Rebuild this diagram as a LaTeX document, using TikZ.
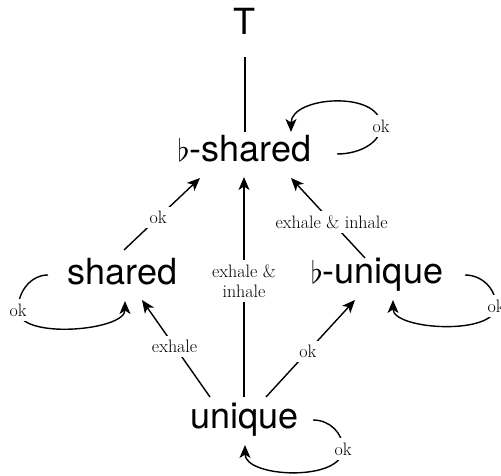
\documentclass[tikz,border=0pt]{standalone}
\usepackage{fontspec}
\usepackage{graphicx}
\setsansfont{TeX Gyre Heros}
\usetikzlibrary{arrows.meta}
\newcommand\myflat{\scalebox{3.1}{\normalsize$\flat$}}
\tikzset{
  st/.style={font=\fontsize{36}{40}\selectfont\sffamily, anchor=base, inner sep=0pt},
  lbl/.style={font=\fontsize{18}{19.5}\selectfont, fill=white, inner sep=4.5pt, align=center},
  ln/.style={line width=1.4pt},
  arr/.style={ln, -{Stealth[length=13pt,width=11pt,inset=3.5pt]}},
}
\begin{document}
\begin{tikzpicture}[x=1pt,y=1pt]
\useasboundingbox (0,0) rectangle (501,476);
\node[st] (T)  at (244,441)   {T};
\node[st] (bs) at (244.5,314) {\myflat-shared};
\node[st] (sh) at (122.5,191) {shared};
\node[st] (bu) at (377,192)   {\myflat-unique};
\node[st] (un) at (244.5,47)  {unique};

\draw[ln] ([shift={(1,-22)}]T.base) -- ([shift={(0.5,30)}]bs.base);
\draw[arr] ([shift={(1.5,35)}]sh.base) -- node[lbl,pos=0.45]{ok} ([shift={(-44.5,-16)}]bs.base);
\draw[arr] ([shift={(-0.5,32)}]un.base) -- node[lbl,pos=0.527]{exhale \&\\inhale} ([shift={(-0.5,-15)}]bs.base);
\draw[arr] ([shift={(-12,26)}]bu.base) -- node[lbl,pos=0.45]{exhale \& inhale} ([shift={(46.5,-16)}]bs.base);
\draw[arr] ([shift={(-34.5,32)}]un.base) -- node[lbl,pos=0.52]{exhale} ([shift={(19.5,-15)}]sh.base);
\draw[arr] ([shift={(21.5,32)}]un.base) -- node[lbl,pos=0.47]{ok} ([shift={(-22,-16)}]bu.base);

% loops
\draw[arr] ([shift={(92.5,8)}]bs.base) .. controls +(24.3,0) and +(0,-15.5) .. ([shift={(136.5,36)}]bs.base) node[lbl]{ok}
  .. controls +(0,36) and +(0,36) .. ([shift={(46.5,30)}]bs.base);
\draw[arr] ([shift={(-74.5,10)}]sh.base) .. controls +(-16.6,0) and +(0,19.3) .. ([shift={(-104.5,-25)}]sh.base) node[lbl]{ok}
  .. controls +(0,-30) and +(0,-30) .. ([shift={(2.5,-16)}]sh.base);
\draw[arr] ([shift={(88,9)}]bu.base) .. controls +(17.1,0) and +(0,17.1) .. ([shift={(119,-22)}]bu.base) node[lbl]{ok}
  .. controls +(0,-30) and +(0,-30) .. ([shift={(16,-16)}]bu.base);
\draw[arr] ([shift={(68.5,9)}]un.base) .. controls +(16.6,0) and +(0,16) .. ([shift={(98.5,-20)}]un.base) node[lbl]{ok}
  .. controls +(0,-33) and +(0,-33) .. ([shift={(0.5,-16)}]un.base);
\end{tikzpicture}
\end{document}
